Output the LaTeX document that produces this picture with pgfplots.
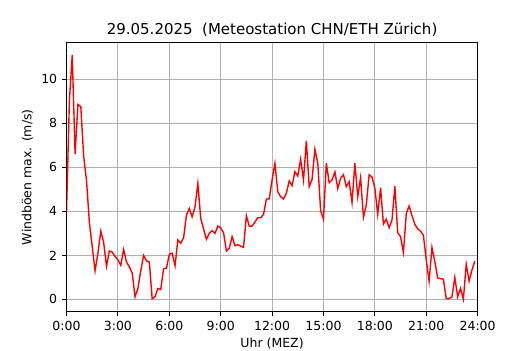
\documentclass[border=0pt]{standalone}
\usepackage{fontspec}
\setmainfont{DejaVu Sans}
\usepackage{pgfplots}
\pgfplotsset{compat=1.18}
\usepackage{pgfplotstable}
\pgfplotstableread{
i v
0 4.0
1 9.0
2 11.1
3 6.6
4 8.85
5 8.75
6 6.5
7 5.4
8 3.5
9 2.4
10 1.3
11 2.1
12 3.1
13 2.6
14 1.5
15 2.2
16 2.15
17 1.95
18 1.8
19 1.55
20 2.27
21 1.7
22 1.48
23 1.2
24 0.12
25 0.5
26 1.3
27 2.0
28 1.75
29 1.7
30 0.03
31 0.12
32 0.5
33 0.45
34 1.4
35 1.42
36 2.05
37 2.1
38 1.53
39 2.7
40 2.55
41 2.8
42 3.83
43 4.13
44 3.75
45 4.2
46 5.27
47 3.68
48 3.2
49 2.73
50 3.0
51 3.12
52 3.0
53 3.33
54 3.25
55 3.03
56 2.2
57 2.32
58 2.85
59 2.44
60 2.48
61 2.42
62 2.36
63 3.8
64 3.33
65 3.33
66 3.51
67 3.71
68 3.71
69 3.86
70 4.55
71 4.57
72 5.42
73 6.18
74 4.89
75 4.66
76 4.56
77 4.82
78 5.38
79 5.16
80 5.8
81 5.6
82 6.36
83 5.42
84 7.2
85 5.12
86 5.45
87 6.82
88 6.18
89 4.03
90 3.64
91 6.18
92 5.3
93 5.42
94 5.79
95 5.03
96 5.5
97 5.66
98 5.12
99 5.35
100 4.4
101 6.18
102 4.66
103 5.53
104 3.73
105 4.29
106 5.66
107 5.55
108 5.05
109 3.86
110 5.07
111 3.42
112 3.64
113 3.25
114 3.6
115 5.15
116 3.03
117 2.85
118 2.14
119 3.9
120 4.24
121 3.8
122 3.41
123 3.2
124 3.1
125 2.92
126 1.79
127 0.83
128 2.36
129 1.71
130 0.98
131 0.94
132 0.92
133 0.03
134 0.03
135 0.12
136 1.0
137 0.12
138 0.5
139 0.01
140 1.6
141 0.83
142 1.33
143 1.74
}\windtable
\begin{document}
\begin{tikzpicture}[x=1pt,y=1pt]
\useasboundingbox (-47.9pt,-27.6pt) rectangle (333.7pt,224.4pt);
\begin{axis}[
  at={(0,0)}, anchor=south west,
  scale only axis, width=296pt, height=193.7pt,
  xmin=0, xmax=144, ymin=-0.555, ymax=11.655,
  xtick={0,18,36,54,72,90,108,126,144},
  xticklabels={0:00,3:00,6:00,9:00,12:00,15:00,18:00,21:00,24:00},
  ytick={0,2,4,6,8,10},
  tick align=outside, xtick pos=bottom, ytick pos=left,
  major tick length=3.2pt,
  tick style={black, line width=0.72pt},
  axis line style={line width=0.72pt},
  grid=major,
  major grid style={color=black!31, line width=0.72pt},
  ticklabel style={font=\fontsize{9}{11}\selectfont},
  /pgf/number format/assume math mode=true,
  xlabel={Uhr (MEZ)}, ylabel={Windböen max. (m/s)},
  label style={font=\fontsize{9}{11}\selectfont},
  xlabel style={yshift=1.2pt},
  ylabel style={yshift=-1pt},
  title={29.05.2025\ \ (Meteostation CHN/ETH Zürich)},
  title style={font=\fontsize{10.8}{13}\selectfont, at={(0.5,1)}, anchor=base, yshift=0pt},
]
\addplot[red, line width=1pt] table[x=i, y=v] {\windtable};
\end{axis}
\end{tikzpicture}
\end{document}
